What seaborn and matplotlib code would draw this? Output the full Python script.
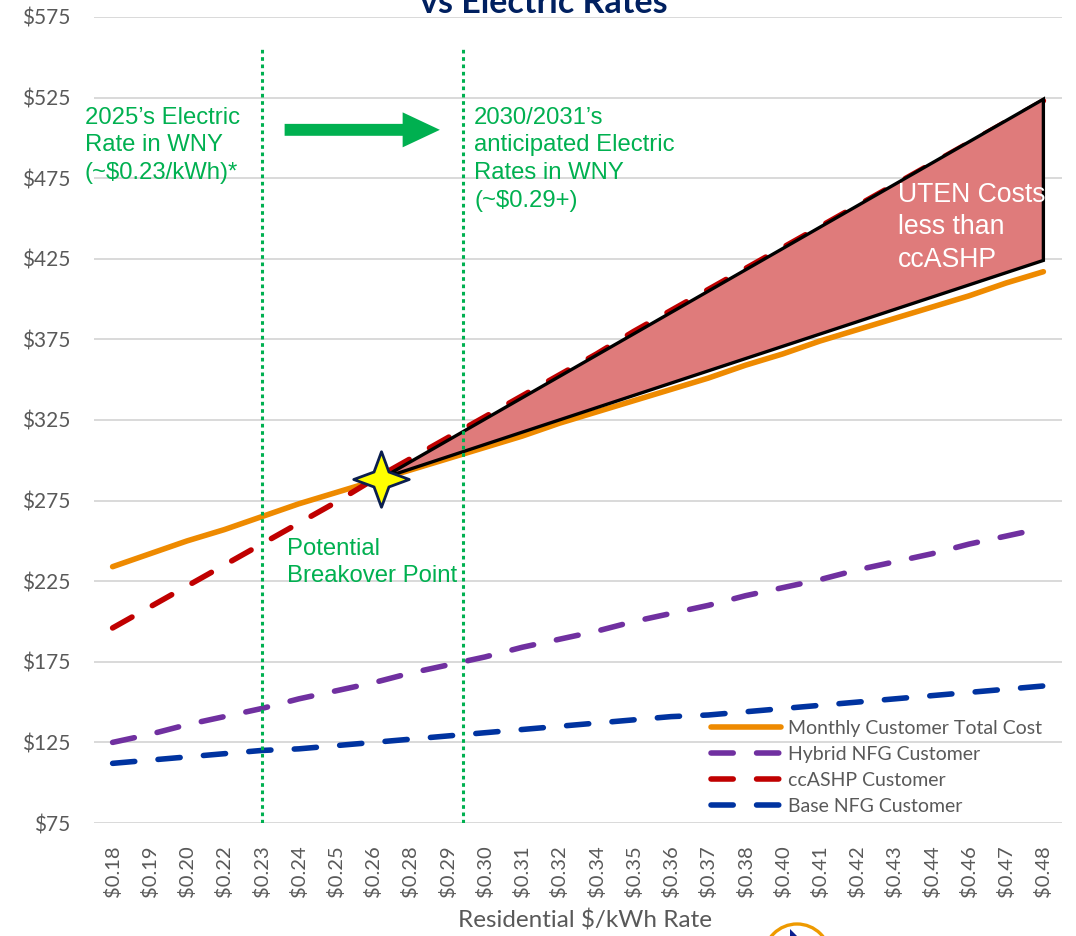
import numpy as np
import matplotlib
matplotlib.use("Agg")
import matplotlib.pyplot as plt
from matplotlib.path import Path
from matplotlib.patches import Circle, Polygon, FancyArrow
import seaborn as sns

# ---- data -------------------------------------------------------------
rate_labels = ["$0.18", "$0.19", "$0.20", "$0.22", "$0.23", "$0.24", "$0.25",
               "$0.26", "$0.28", "$0.29", "$0.30", "$0.31", "$0.32", "$0.34",
               "$0.35", "$0.36", "$0.37", "$0.38", "$0.40", "$0.41", "$0.42",
               "$0.43", "$0.44", "$0.46", "$0.47", "$0.48"]

total_cost = [234, 242, 250, 257, 265, 273, 280, 287, 294, 301, 308, 315, 323,
              330, 337, 344, 351, 359, 366, 374, 381, 388, 395, 402, 410, 417]
hybrid_nfg = [125, 130, 136, 141, 146, 152, 157, 162, 168, 173, 178, 184, 189,
              194, 200, 205, 210, 216, 221, 226, 232, 237, 242, 248, 253, 258]
ccashp = [196, 209, 222, 235, 248, 261, 274, 288, 301, 314, 327, 340, 353,
          366, 380, 393, 406, 419, 432, 445, 458, 471, 484, 497, 510, 523]
base_nfg = [112, 114, 116, 118, 120, 121, 123, 125, 127, 129, 131, 133, 135,
            137, 139, 141, 142, 144, 146, 148, 150, 152, 154, 156, 158, 160]

series_names = ["Monthly Customer Total Cost", "Hybrid NFG Customer",
                "ccASHP Customer", "Base NFG Customer"]

# rate markers (category positions): 2025 rate and 2030/2031 anticipated rate
rate_markers = [4.0, 9.4]

# breakover point and the region where UTEN is cheaper than ccASHP
breakover = (7.2, 288.5)
gap_x = [7.2, 25, 25]
gap_y = [288.5, 524, 424]

# ---- style ------------------------------------------------------------
sns.set_theme(style="white")
plt.rcParams["font.family"] = ["Lato", "DejaVu Sans"]

W, H = 1076, 936
GREEN = "#00B050"
GRAY = "#595959"

fig, ax = plt.subplots(figsize=(W / 100, H / 100), dpi=100)
fig.subplots_adjust(left=94 / W, right=1062 / W, bottom=113 / H, top=919 / H)


def px(xp, yp):
    """pixel position -> figure fraction"""
    return xp / W, 1 - yp / H


x = np.arange(len(rate_labels))
styles = [
    (total_cost, "#EE8A00", None),
    (hybrid_nfg, "#7030A0", (4, 4.2)),
    (ccashp, "#C00000", (4, 4.2)),
    (base_nfg, "#0033A0", (4, 4.2)),
]
for name, (vals, color, dash) in zip(series_names, styles):
    sns.lineplot(x=x, y=vals, ax=ax, color=color, lw=4, label=name, zorder=2)
    line = ax.get_lines()[-1]
    if dash is not None:
        line.set_dashes(dash)
    line.set_solid_capstyle("round")
    line.set_dash_capstyle("round")

# shaded savings wedge
ax.add_patch(Polygon(np.column_stack([gap_x, gap_y]), closed=True,
                     facecolor="#DF7B7B", edgecolor="black", lw=2.4,
                     joinstyle="miter", zorder=3))

# four-point star at the breakover point
ang = np.deg2rad(np.arange(0, 360, 45))
rad = np.where(np.arange(8) % 2 == 0, 1.0, 0.38)
verts = np.column_stack([rad * np.cos(ang), rad * np.sin(ang)])
verts = np.vstack([verts, verts[:1]])
codes = [Path.MOVETO] + [Path.LINETO] * 7 + [Path.CLOSEPOLY]
star = Path(verts, codes)
ax.plot([breakover[0]], [breakover[1]], marker=star, markersize=40,
        markerfacecolor="#FFFF00", markeredgecolor="#0B1F4F",
        markeredgewidth=2.0, zorder=6)

# rate marker lines
ax.vlines(rate_markers, 75, 555, colors=GREEN, lw=2.2,
          linestyles=[(0, (1.2, 1.2))], zorder=5)

# arrow between the two rate markers
ax.add_patch(FancyArrow(4.62, 505, 4.17, 0, width=7.4, head_width=21.7,
                        head_length=1.0, length_includes_head=True,
                        color=GREEN, lw=0, zorder=5))

# axes
ax.set_xlim(-0.5, 25.5)
ax.set_ylim(75, 575)
yt = list(range(75, 576, 50))
ax.set_yticks(yt, [f"${v}" for v in yt])
ax.set_xticks(x, rate_labels, rotation=90)
ax.tick_params(axis="y", length=0, pad=17, labelsize=15, labelcolor=GRAY)
ax.tick_params(axis="x", length=0, pad=16, labelsize=14.5, labelcolor=GRAY)
ax.yaxis.grid(True, color="#D9D9D9", lw=1.4)
ax.xaxis.grid(False)
ax.set_axisbelow(True)
for s in ax.spines.values():
    s.set_visible(False)
ax.set_xlabel("")
ax.set_ylabel("")

ax.legend(loc="upper left", bbox_to_anchor=px(711, 720),
          bbox_transform=fig.transFigure, frameon=False, fontsize=14,
          handlelength=3.6, handletextpad=0.36, labelspacing=0.46,
          borderpad=0, borderaxespad=0, labelcolor=GRAY)

# text
ann = dict(family=["Liberation Sans", "DejaVu Sans"], ha="left", va="top")
fig.text(*px(85, 106.7), "2025\u2019s Electric\nRate in WNY\n(~$0.23/kWh)*",
         color=GREEN, size=17.2, linespacing=1.34, **ann)
fig.text(*px(474, 106.7),
         "2030/2031\u2019s\nanticipated Electric\nRates in WNY\n(~$0.29+)",
         color=GREEN, size=17.2, linespacing=1.34, **ann)
fig.text(*px(287, 537.7), "Potential\nBreakover Point", color=GREEN,
         size=17.2, linespacing=1.34, **ann)
fig.text(*px(898, 181.7), "UTEN Costs\nless than\nccASHP", color="white",
         size=19.2, linespacing=1.34, zorder=7, **ann)

fig.text(*px(585, 921), "Residential $/kWh Rate", ha="center", va="center",
         color=GRAY, size=17.5)
fig.text(*px(544, 13), "vs Electric Rates", ha="center", va="baseline",
         color="#002060", size=24.5, weight="bold")

# partial logo at the bottom edge
fig.add_artist(Circle((7.97, -0.21), 0.33, transform=fig.dpi_scale_trans,
                      fill=False, edgecolor="#EE9A00", lw=2.4))
fig.add_artist(Polygon([(7.90, 0.07), (7.90, 0.0), (7.97, 0.0)],
                       closed=True, transform=fig.dpi_scale_trans,
                       facecolor="#0B1F8F", edgecolor="none"))

fig.savefig("out.png", dpi=100)
